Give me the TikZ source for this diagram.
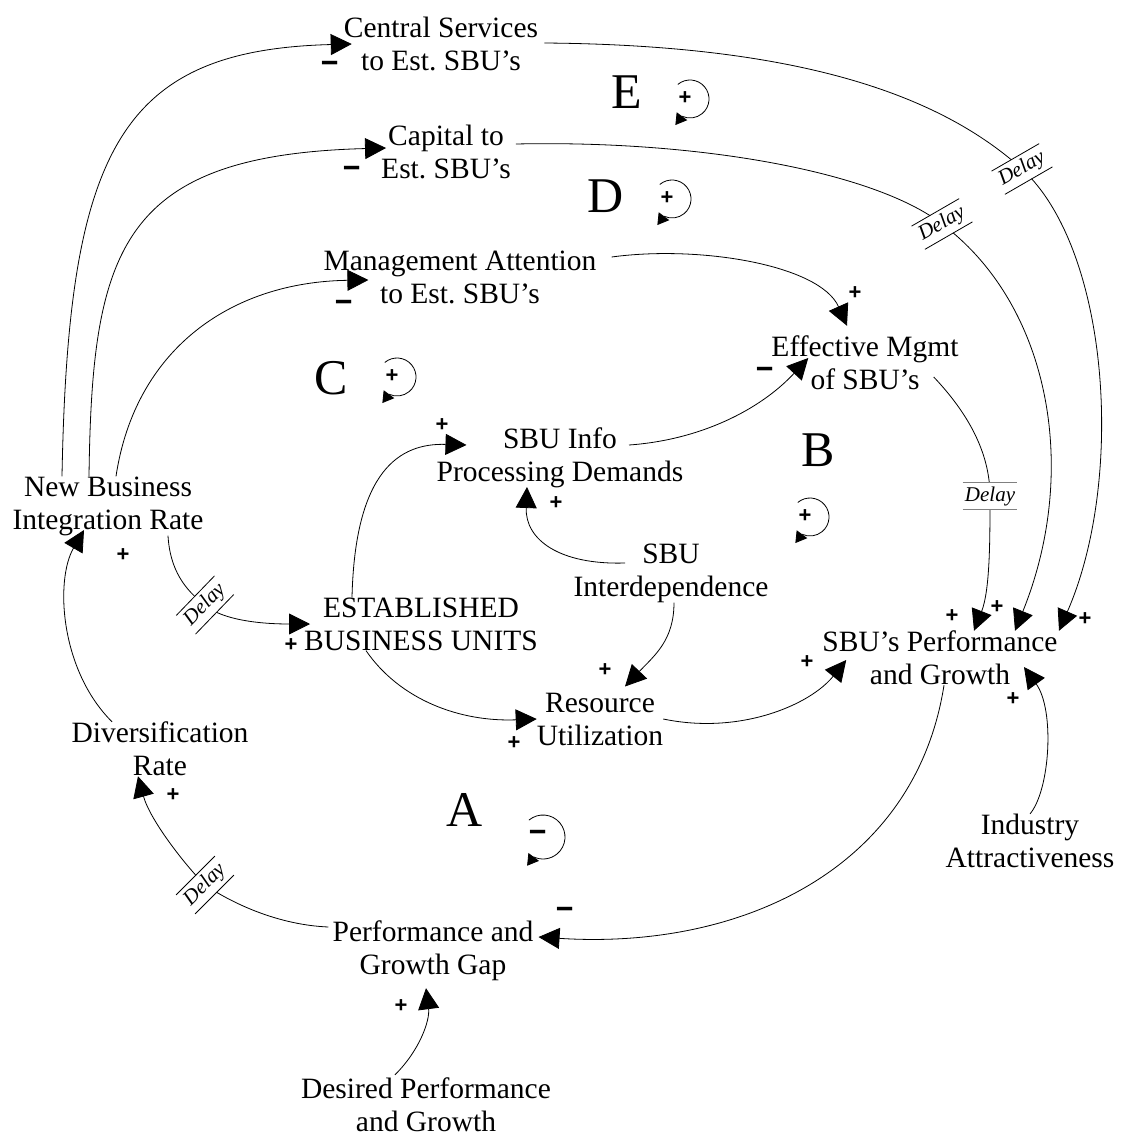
\documentclass[tikz,border=0pt]{standalone}
\usepackage{fontspec}
\setmainfont{Liberation Serif}
\newfontfamily\signfont{Liberation Sans}
\usepackage{tikz}
\usetikzlibrary{arrows.meta}
\frenchspacing
\newcommand{\delaymark}[2][black]{\draw[#1,line width=0.8pt] (#2.north west) -- (#2.north east) (#2.south west) -- (#2.south east);}

\begin{document}
\begin{tikzpicture}[x=1pt,y=1pt,
    cvar/.style={font=\fontsize{29.5pt}{33pt}\selectfont, align=center, inner sep=0pt},
    link/.style={line width=0.8pt, -{Triangle[length=21pt,width=21pt]}},
    pol/.style={font=\signfont\bfseries\fontsize{22pt}{22pt}\selectfont, inner sep=0pt},
    polm/.style={pol, xscale=1.4, yscale=1.6},
    looplbl/.style={font=\fontsize{50pt}{50pt}\selectfont, inner sep=0pt},
    loopar/.style={line width=0.8pt, -{Triangle[length=11pt,width=13pt]}},
    delaybox/.style={font=\fontsize{21pt}{21pt}\selectfont\itshape, fill=white, inner xsep=2pt, inner ysep=0pt, minimum height=26pt}]
\useasboundingbox (0,0) rectangle (1122,-1138);
% === VARIABLES ===
\node[cvar] (cs)  at (441,-44)   {Central Services\\to Est. SBU’s};
\node[cvar] (cap) at (446,-152)  {Capital to\\Est. SBU’s};
\node[cvar] (mat) at (460,-277)  {Management Attention\\to Est. SBU’s};
\node[cvar] (emg) at (865,-363)  {Effective Mgmt\\of SBU’s};
\node[cvar] (sip) at (560,-458)  {SBU Info\\Processing Demands};
\node[cvar] (nbi) at (108,-506)  {New Business\\Integration Rate};
\node[cvar] (sbi) at (671,-573)  {SBU\\Interdependence};
\node[cvar] (ebu) at (421,-624)  {ESTABLISHED\\BUSINESS UNITS};
\node[cvar] (spg) at (940,-658)  {SBU’s Performance\\and Growth};
\node[cvar] (ru)  at (600,-719)  {Resource\\Utilization};
\node[cvar] (dr)  at (160,-749)  {Diversification\\Rate};
\node[cvar] (ia)  at (1030,-841) {Industry\\Attractiveness};
\node[cvar] (pgg) at (433,-951)  {Performance and\\Growth Gap};
\node[cvar] (dpg) at (426,-1105) {Desired Performance\\and Growth};
% === LOOP LABELS ===
\node[looplbl] (lblE) at (627,-92)  {E};
\node[looplbl] (lblD) at (606,-196) {D};
\node[looplbl] (lblC) at (331,-378) {C};
\node[looplbl] (lblB) at (818,-450) {B};
\node[looplbl] (lblA) at (465,-810) {A};
\foreach \lx/\ly/\lr [count=\i] in {690/99/19, 672/199/19, 397/377/19, 810/517/19, 543/837/22}{
    \draw[loopar] (\lx,-\ly) ++(130:\lr) arc[start angle=130, end angle=-115, radius=\lr] -- ++(-6.6,-8.8);
}
\node[pol]  (lp1) at (685,-98)  {+};
\node[pol]  (lp2) at (667,-198) {+};
\node[pol]  (lp3) at (392,-376) {+};
\node[pol]  (lp4) at (805,-516) {+};
\node[polm] (lp5) at (538,-836) {–};
% === LINKS ===
\draw[link] ([xshift=-46pt]nbi.north) .. controls (68,-150) and (120,-50) .. ([xshift=8pt]cs.west);
\draw[link] ([xshift=-19pt]nbi.north) .. controls (92,-250) and (120,-155) .. ([shift={(5,4)}]cap.west);
\draw[link] ([xshift=8pt]nbi.north) .. controls (135,-350) and (230,-282) .. ([shift={(45,-3)}]mat.west);
\draw[link] ([shift={(6,1)}]cs.east) .. controls (800,-45) and (940,-95) .. (1022,-169)
    node[delaybox,rotate=30] (dl1) {Delay} .. controls (1110,-250) and (1125,-480) .. ([xshift=119pt]spg.north);
\draw[link] ([shift={(5,8)}]cap.east) .. controls (700,-140) and (875,-172) .. (942,-224)
    node[delaybox,rotate=30] (dl2) {Delay} .. controls (1050,-305) and (1080,-470) .. ([xshift=75pt]spg.north);
\draw[link] ([shift={(15,20)}]mat.east) .. controls (700,-245) and (820,-265) .. ([shift={(-18,10)}]emg.north);
\draw[link] ([shift={(-25,-14)}]emg.east) .. controls (965,-410) and (990,-450) .. (990,-496)
    node[delaybox] (dl3) {Delay} .. controls (990,-540) and (990,-590) .. ([xshift=34pt]spg.north);
\draw[link] ([shift={(69,13)}]sip.center) .. controls (700,-440) and (760,-410) .. ([shift={(37,5)}]emg.west);
\draw[link] ([xshift=-69pt]ebu.north) .. controls (355,-470) and (400,-443) .. ([shift={(30,13)}]sip.west);
\draw[link] ([shift={(-46,10)}]sbi.center) .. controls (560,-565) and (525,-540) .. ([shift={(-33,-29)}]sip.center);
\draw[link] ([xshift=3pt]sbi.south) .. controls (674,-640) and (655,-655) .. ([shift={(25,6)}]ru.north);
\draw[link] ([xshift=-55pt]ebu.south) .. controls (400,-700) and (460,-722) .. (ru.west);
\draw[link] (ru.east) .. controls (740,-735) and (810,-705) .. ([shift={(24,-2)}]spg.west);
\draw[link] ([xshift=4pt]spg.south) .. controls (915,-870) and (740,-950) .. ([shift={(5,14)}]pgg.east);
\draw[link] (ia.north) .. controls (1050,-790) and (1055,-710) .. ([shift={(84,-9)}]spg.center);
\draw[link] ([shift={(-31,3)}]dpg.north) .. controls (420,-1050) and (430,-1020) .. ([shift={(-7,-7)}]pgg.south);
\draw[link] ([shift={(-4,24)}]pgg.west) .. controls (280,-925) and (235,-905) .. (205,-885)
    node[delaybox,rotate=45] (dl5) {Delay} .. controls (185,-865) and (150,-820) .. ([xshift=-22pt]dr.south);
\draw[link] ([xshift=-48pt]dr.north) .. controls (60,-670) and (55,-580) .. ([shift={(-24,-24)}]nbi.center);
\draw[link] ([xshift=60pt]nbi.south) .. controls (170,-570) and (185,-590) .. (205,-605)
    node[delaybox,rotate=46] (dl4) {Delay} .. controls (222,-620) and (260,-624) .. ([xshift=6pt]ebu.west);
\delaymark{dl1}
\delaymark{dl2}
\delaymark[gray]{dl3}
\delaymark{dl4}
\delaymark{dl5}
% === POLARITIES ===
\foreach \px/\py [count=\i] in {1085/619, 997/607, 855/293, 952/616, 442/425, 556/503, 605/670, 514/743,
    807/662, 1013/699, 401/1006, 173/795, 123/555, 291/645}
    \node[pol] (pp\i) at (\px,-\py) {+};
\foreach \px/\py [count=\i] in {330/67, 352/172, 344/306, 765/373, 565/913}
    \node[polm] (pm\i) at (\px,-\py) {–};
\end{tikzpicture}
\end{document}
